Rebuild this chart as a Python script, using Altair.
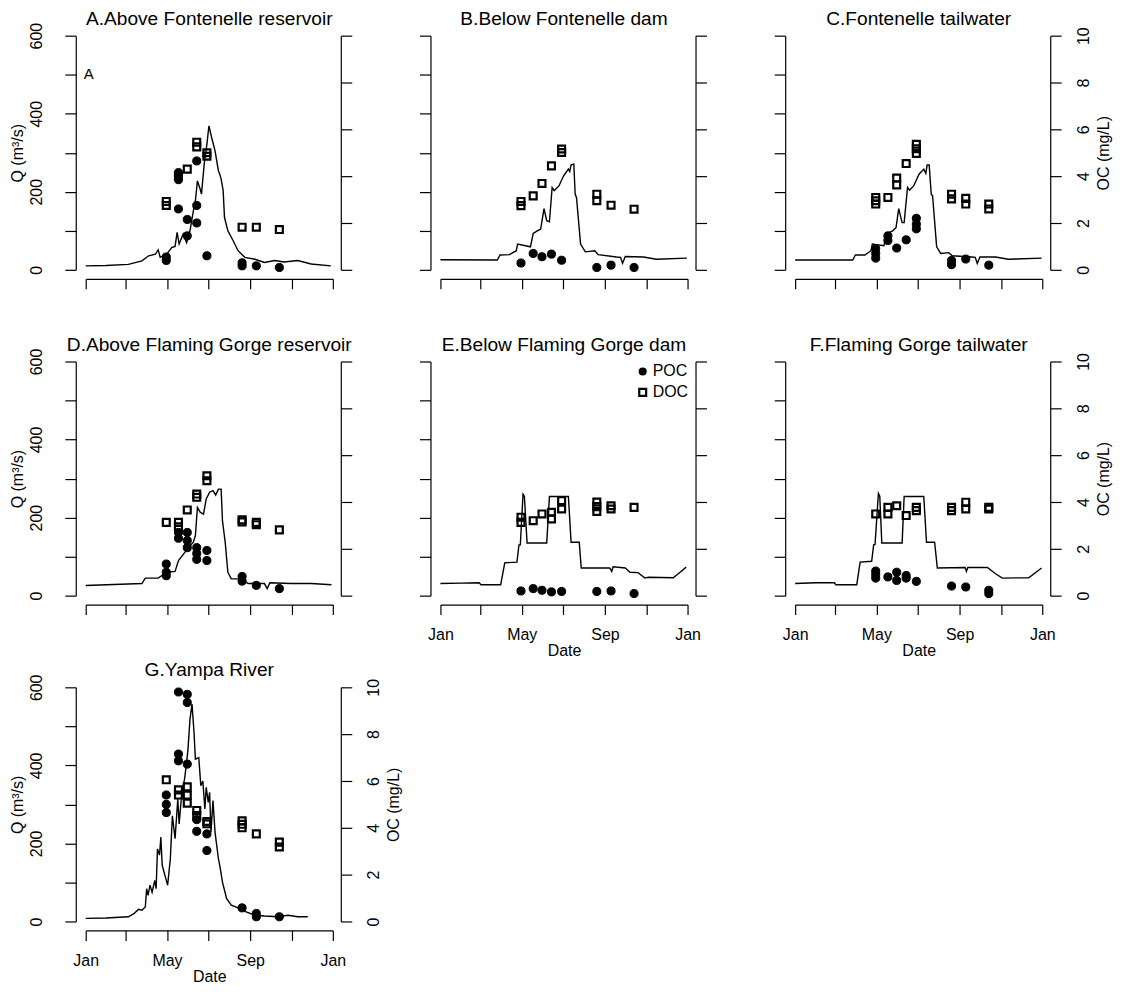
import altair as alt
import pandas as pd

YEAR0 = pd.Timestamp("2010-01-01")
FONT = "Liberation Sans"

# sampling days (day of year)
sample_days = [119, 137, 150, 164, 179, 231, 252, 286]

titles = ["A.Above Fontenelle reservoir", "B.Below Fontenelle dam", "C.Fontenelle tailwater",
          "D.Above Flaming Gorge reservoir", "E.Below Flaming Gorge dam", "F.Flaming Gorge tailwater",
          "G.Yampa River"]

# discharge lines: day of year, Q (m3/s)
A_day = [0, 30, 63, 83, 93, 103, 107, 110, 120, 127, 132, 135, 138, 144, 149, 154, 159, 162, 165, 169, 171,
         175, 179, 182, 186, 191, 196, 198, 200, 203, 205, 210, 218, 225, 235, 250, 264, 279, 293, 313, 333, 362]
A_q = [10, 11, 14, 23, 36, 40, 51, 32, 41, 57, 60, 96, 66, 92, 70, 100, 151, 177, 228, 207, 194,
       271, 322, 369, 339, 305, 254, 245, 233, 203, 134, 100, 74, 49, 32, 27, 19, 24, 20, 24, 15, 10]
B_day = [0, 84, 88, 102, 112, 114, 133, 137, 143, 148, 153, 157, 161, 165, 168, 175, 182, 189, 191, 193, 197,
         199, 201, 207, 214, 228, 233, 260, 266, 269, 273, 300, 319, 364]
B_q = [26, 25, 38, 39, 49, 66, 59, 93, 100, 104, 157, 126, 123, 211, 203, 215, 241, 258, 252, 269, 271,
       194, 185, 66, 46, 49, 39, 33, 32, 17, 34, 33, 27, 30]
C_day = [0, 85, 89, 103, 112, 114, 131, 136, 144, 149, 153, 158, 161, 166, 169, 175, 183, 190, 193, 195, 198,
         201, 203, 209, 215, 227, 232, 261, 266, 269, 273, 296, 315, 364]
C_q = [25, 25, 38, 38, 49, 66, 62, 93, 100, 108, 157, 121, 121, 211, 204, 215, 245, 258, 247, 269, 269,
       194, 190, 59, 42, 44, 36, 33, 32, 16, 33, 33, 27, 30]
D_day = [0, 83, 88, 107, 120, 132, 137, 147, 152, 159, 162, 165, 169, 174, 178, 183, 188, 192, 196, 200,
         202, 206, 210, 215, 230, 240, 264, 268, 272, 303, 333, 363]
D_q = [26, 31, 45, 45, 60, 62, 90, 112, 124, 137, 154, 226, 214, 209, 248, 265, 269, 258, 273, 273,
       192, 137, 60, 43, 43, 31, 31, 18, 33, 31, 31, 28]
E_day = [0, 30, 57, 60, 89, 95, 113, 116, 118, 122, 124, 128, 157, 161, 189, 193, 205, 208, 250, 253, 255,
         273, 280, 292, 302, 307, 344, 354, 363]
E_q = [31, 32, 33, 28, 28, 84, 86, 130, 130, 260, 255, 135, 135, 254, 254, 137, 137, 71, 71, 62, 74,
       71, 60, 59, 45, 47, 46, 60, 73]
F_day = [0, 31, 58, 60, 91, 96, 113, 116, 118, 123, 125, 128, 158, 161, 190, 194, 206, 210, 251, 253, 255,
         284, 296, 306, 345, 364]
F_q = [31, 33, 33, 28, 28, 86, 88, 130, 131, 262, 255, 135, 135, 254, 254, 137, 137, 71, 72, 62, 72,
       72, 56, 45, 46, 71]
G_day = [0, 30, 63, 71, 78, 83, 88, 90, 92, 95, 98, 102, 104, 106, 109, 111, 113, 117, 121, 125, 128, 132,
         136, 138, 142, 146, 149, 151, 154, 157, 160, 162, 167, 170, 173, 176, 178, 181, 183, 185, 188, 191,
         196, 198, 202, 208, 215, 225, 235, 250, 264, 284, 299, 313, 328]
G_q = [8, 9, 12, 20, 31, 29, 37, 84, 67, 93, 75, 105, 84, 186, 170, 216, 144, 118, 93, 161, 271, 212,
       314, 250, 331, 365, 407, 440, 518, 557, 484, 416, 420, 348, 360, 288, 344, 305, 331, 229, 310, 229,
       161, 144, 101, 59, 42, 35, 26, 16, 14, 12, 16, 12, 12]

# organic carbon (mg/L), replicate values for each sampling day
A_poc = [[0.55, 0.4], [4.15, 3.85, 2.6], [2.15, 1.45], [4.65, 2.75, 2.0], [0.6], [0.3, 0.17], [0.17], [0.1]]
A_doc = [[2.92, 2.75], [4.0], [4.3], [5.45, 5.25], [5.0, 4.85], [1.82], [1.82], [1.72]]
B_poc = [[0.29], [0.7], [0.56], [0.67], [0.41], [0.1], [0.2], [0.1]]
B_doc = [[2.92, 2.74], [3.16], [3.69], [4.44], [5.16, 5.01], [3.23, 2.95], [2.76], [2.59]]
C_poc = [[0.9, 0.7, 0.5], [1.45, 1.25], [0.93], [1.28], [2.2, 1.95, 1.75], [0.4, 0.22], [0.46], [0.2]]
C_doc = [[3.09, 2.95, 2.81], [3.09], [3.92, 3.63], [4.54], [5.36, 5.17, 4.97], [3.23, 3.03], [3.05, 2.81],
         [2.81, 2.6]]
D_poc = [[1.35, 1.0, 0.85], [2.7, 2.45], [2.7, 2.35, 2.05], [2.05, 1.8, 1.55], [1.93, 1.5], [0.82, 0.62],
         [0.44], [0.3]]
D_doc = [[3.13], [3.13, 2.94], [3.66], [4.34, 4.2], [5.12, 4.91], [3.24, 3.15], [3.13, 3.03], [2.81]]
E_poc = [[0.2], [0.3], [0.23], [0.16], [0.18], [0.18], [0.2], [0.09]]
E_doc = [[3.35, 3.13], [3.2], [3.49], [3.56, 3.28], [4.06, 3.7], [4.0, 3.8, 3.6], [3.84, 3.7], [3.77]]
F_poc = [[1.05, 0.9, 0.75], [0.8], [1.0, 0.65], [0.86, 0.75], [0.61], [0.41], [0.37], [0.23, 0.09]]
F_doc = [[3.49], [3.77, 3.49], [3.84], [3.42], [3.77, 3.63], [3.77, 3.63], [3.99, 3.7], [3.77, 3.7]]
G_poc = [[5.4, 5.0, 4.65], [9.8, 7.15, 6.86], [9.7, 9.35, 6.72], [4.35, 3.85], [3.74, 3.03], [0.58],
         [0.34, 0.2], [0.2]]
G_doc = [[6.05], [5.62, 5.4], [5.75, 5.4, 5.05], [4.74, 4.52], [4.27, 4.17], [4.3, 4.15, 4.0], [3.74],
         [3.39, 3.18]]

legend_labels = ["POC", "DOC"]
q_ticks = [0, 100, 200, 300, 400, 500, 600]
oc_ticks = [0, 2, 4, 6, 8, 10]

W, H = 248, 235


def to_date(d):
    return YEAR0 + pd.Timedelta(days=d)


def month_dt(y, m):
    return alt.DateTime(year=y, month=m, date=1)


x_ticks = [month_dt(2010, m) for m in (1, 3, 5, 7, 9, 11)] + [month_dt(2011, 1)]
x_scale = alt.Scale(domain=[month_dt(2010, 1), month_dt(2011, 1)])


def panel(title, days, q, poc, doc, left_lab, right_lab, x_lab, extras=()):
    line_df = pd.DataFrame({"date": [to_date(d) for d in days], "Q": q})
    rows = []
    for d, vals in zip(sample_days, poc):
        for v in vals:
            rows.append({"date": to_date(d), "OC": v, "type": "POC"})
    for d, vals in zip(sample_days, doc):
        for v in vals:
            rows.append({"date": to_date(d), "OC": v, "type": "DOC"})
    pts_df = pd.DataFrame(rows)

    x_axis = alt.Axis(values=x_ticks, labels=x_lab, title="Date" if x_lab else None,
                      labelExpr="month(datum.value) % 4 == 0 ? timeFormat(datum.value, '%b') : ''",
                      offset=9, tickSize=10, labelPadding=12, titlePadding=0,
                      labelFlush=False, labelOverlap=False)
    x_enc = alt.X("date:T", scale=x_scale, axis=x_axis)

    line = alt.Chart(line_df).mark_line(color="black", strokeWidth=1.4).encode(
        x=x_enc,
        y=alt.Y("Q:Q", scale=alt.Scale(domain=[0, 600], nice=False),
                axis=alt.Axis(orient="left", values=q_ticks, labels=left_lab,
                              title="Q (m³/s)" if left_lab else None,
                              labelExpr="datum.value % 200 == 0 ? datum.label : ''",
                              labelAngle=-90, labelAlign="center", labelBaseline="bottom",
                              offset=10, tickSize=11, labelPadding=20, titlePadding=3,
                              labelFlush=False, labelOverlap=False)),
    )
    pts = alt.Chart(pts_df).mark_point(stroke="black", opacity=1).encode(
        x=x_enc,
        y=alt.Y("OC:Q", scale=alt.Scale(domain=[0, 10], nice=False),
                axis=alt.Axis(orient="right", values=oc_ticks, labels=right_lab,
                              title="OC (mg/L)" if right_lab else None,
                              labelAngle=-90, labelAlign="center", labelBaseline="top",
                              titleAngle=270, titleBaseline="top",
                              offset=8, tickSize=11, labelPadding=14, titlePadding=4,
                              labelFlush=False, labelOverlap=False)),
        shape=alt.Shape("type:N", scale=alt.Scale(domain=legend_labels, range=["circle", "square"]),
                        legend=None),
        fill=alt.condition("datum.type == 'POC'", alt.value("black"), alt.value("transparent")),
        size=alt.condition("datum.type == 'POC'", alt.value(66), alt.value(48)),
        strokeWidth=alt.condition("datum.type == 'POC'", alt.value(1), alt.value(2.2)),
    )
    ttl = alt.Chart(pd.DataFrame({"t": [title]})).mark_text(
        font=FONT, fontSize=19.2, align="center", baseline="middle", color="black"
    ).encode(text="t:N", x=alt.value(W / 2), y=alt.value(-17))
    return alt.layer(line, pts, ttl, *extras).resolve_scale(y="independent").properties(
        width=W, height=H)


lab_df = pd.DataFrame({"lab": ["A"]})
a_text = alt.Chart(lab_df).mark_text(font=FONT, fontSize=15, align="center", baseline="middle",
                                     color="black").encode(
    text="lab:N", x=alt.value(3), y=alt.value(38))

leg_df_poc = pd.DataFrame({"lab": [legend_labels[0]]})
leg_df_doc = pd.DataFrame({"lab": [legend_labels[1]]})
leg = [
    alt.Chart(leg_df_poc).mark_point(shape="circle", filled=True, color="black", size=66, opacity=1).encode(
        x=alt.value(203), y=alt.value(10)),
    alt.Chart(leg_df_doc).mark_point(shape="square", filled=False, color="black", size=48, opacity=1,
                                     strokeWidth=2.2).encode(x=alt.value(203), y=alt.value(31)),
    alt.Chart(leg_df_poc).mark_text(font=FONT, fontSize=16, align="left", baseline="middle",
                                    color="black").encode(text="lab:N", x=alt.value(213), y=alt.value(10)),
    alt.Chart(leg_df_doc).mark_text(font=FONT, fontSize=16, align="left", baseline="middle",
                                    color="black").encode(text="lab:N", x=alt.value(213), y=alt.value(31)),
]

panels = [
    panel(titles[0], A_day, A_q, A_poc, A_doc, True, False, False, extras=[a_text]),
    panel(titles[1], B_day, B_q, B_poc, B_doc, False, False, False),
    panel(titles[2], C_day, C_q, C_poc, C_doc, False, True, False),
    panel(titles[3], D_day, D_q, D_poc, D_doc, True, False, False),
    panel(titles[4], E_day, E_q, E_poc, E_doc, False, False, True, extras=leg),
    panel(titles[5], F_day, F_q, F_poc, F_doc, False, True, True),
    panel(titles[6], G_day, G_q, G_poc, G_doc, True, True, True),
]

chart = alt.concat(*panels, columns=3, spacing={"row": 92, "column": 108}, bounds="flush").properties(
    padding={"left": 2, "top": 0, "right": 2, "bottom": 2}
).configure_view(stroke=None).configure_axis(
    grid=False, domainColor="black", tickColor="black", labelColor="black", titleColor="black",
    labelFont=FONT, titleFont=FONT, labelFontSize=16, titleFontSize=16, titleFontWeight="normal",
    domainWidth=1.2, tickWidth=1.2,
)

chart.save("out.html", embed_options={"renderer": "svg", "actions": False})
